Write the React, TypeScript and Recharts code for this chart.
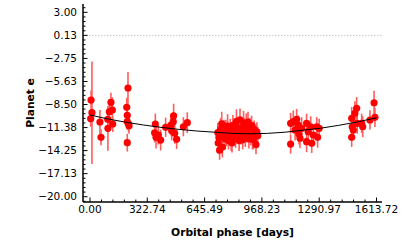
import React from 'react';
import { ComposedChart, Scatter, XAxis, YAxis, ErrorBar, ReferenceLine } from 'recharts';

const FONT = '"DejaVu Sans", sans-serif';

// Observations: orbital phase [days], planet e signal, error
const obsPhase = [
  6, 11, 4, 56, 62, 100, 101, 109, 118, 126, 128, 214, 207, 210, 210, 220, 210, 217,
  368, 364, 372, 385, 398, 426, 456, 460, 471, 469, 477, 488, 526, 548,
  720, 722, 726, 730, 735, 738, 742, 746, 750, 755, 760, 765, 770, 775, 780, 784,
  790, 795, 800, 805, 810, 815, 820, 825, 830, 835, 840, 845, 850, 855, 860, 865,
  870, 875, 880, 885, 890, 895, 900, 905, 910, 915, 920, 925, 930, 935, 940, 945,
  1130, 1130, 1145, 1164, 1173, 1177, 1183, 1192, 1220, 1220, 1229, 1243, 1249, 1258, 1277, 1282, 1291, 1155,
  1474, 1474, 1477, 1483, 1492, 1502, 1505, 1530, 1536, 1577, 1600, 1605,
];
const obsValue = [
  -7.94, -9.52, -10.27, -10.68, -12.59, -10.35, -11.47, -9.4, -8.23, -9.19, -10.93, -6.44, -8.85, -9.85, -10.64, -11.14, -13.26, -10.93,
  -10.93, -12.02, -12.59, -12.3, -12.93, -11.34, -11.06, -11.77, -9.9, -10.64, -12.09, -12.84, -11.27, -10.77,
  -12.0, -13.3, -12.6, -14.2, -11.6, -12.4, -10.9, -13.8, -12.1, -11.5, -12.8, -11.8, -12.5, -11.2, -13.0, -12.2,
  -11.6, -12.9, -13.3, -11.1, -12.4, -11.8, -12.7, -10.6, -12.0, -11.4, -13.0, -10.4, -12.3, -11.7, -12.9, -10.8,
  -11.5, -12.6, -11.0, -12.1, -10.7, -12.8, -11.4, -12.3, -11.1, -12.7, -12.9, -11.6, -12.2, -13.5, -11.9, -12.4,
  -10.84, -13.43, -10.64, -10.35, -11.06, -12.18, -12.71, -11.47, -10.84, -13.14, -11.89, -11.27, -13.34, -12.3, -11.27, -12.59, -11.47, -11.68,
  -10.22, -12.59, -11.27, -11.68, -9.6, -8.97, -10.84, -10.84, -11.27, -10.43, -8.28, -10.1,
];
const obsError = [
  1.2, 6.4, 1.0, 1.5, 1.0, 1.5, 2.8, 1.5, 1.2, 1.6, 1.0, 2.0, 1.2, 1.0, 1.0, 1.0, 1.1, 1.0,
  1.3, 1.2, 1.4, 1.2, 1.3, 1.2, 1.3, 1.2, 1.5, 1.2, 1.3, 1.2, 1.2, 1.3,
  1.2, 1.3, 1.1, 1.2, 1.4, 1.0, 1.5, 1.3, 1.2, 1.1, 1.3, 1.4, 1.2, 1.5, 1.1, 1.2,
  1.3, 1.4, 1.2, 1.3, 1.1, 1.4, 1.2, 1.5, 1.3, 1.2, 1.3, 1.4, 1.2, 1.1, 1.2, 1.5,
  1.3, 1.2, 1.4, 1.1, 1.3, 1.2, 1.2, 1.3, 1.2, 1.4, 1.2, 1.1, 1.3, 1.2, 1.2, 1.1,
  1.3, 1.2, 1.4, 1.3, 1.2, 1.3, 1.2, 1.4, 1.2, 1.3, 1.2, 1.3, 1.2, 1.3, 1.2, 1.3, 1.2, 1.3,
  1.4, 1.2, 1.3, 1.2, 1.5, 1.4, 1.3, 1.2, 1.3, 1.2, 1.5, 1.2,
];

// Model curve
const curvePhase = [0, 100, 200, 300, 400, 500, 600, 700, 800, 900, 1000, 1100, 1200, 1300, 1400, 1500, 1613.72];
const curveValue = [-9.8, -10.3, -10.7, -11.05, -11.35, -11.6, -11.8, -11.95, -12.1, -12.15, -12.1, -11.95, -11.7, -11.45, -11.1, -10.7, -10.15];

// Axes
const xMajorTicks = [0, 322.74, 645.49, 968.23, 1290.97, 1613.72];
const xTickLabels = ['0.00', '322.74', '645.49', '968.23', '1290.97', '1613.72'];
const xMinorTicks = [
  64.55, 129.1, 193.64, 258.19, 387.29, 451.84, 516.39, 580.94, 710.04, 774.58,
  839.13, 903.68, 1032.78, 1097.33, 1161.87, 1226.42, 1355.52, 1420.07, 1484.62, 1549.17,
];
const yMajorTicks = [3, 0.125, -2.75, -5.625, -8.5, -11.375, -14.25, -17.125, -20];
const yTickLabels = ['3.00', '0.13', '\u22122.75', '\u22125.63', '\u22128.50', '\u221211.38', '\u221214.25', '\u221217.13', '\u221220.00'];
const yMinorTicks = [
  3.575, 2.425, 1.85, 1.275, 0.7, -0.45, -1.025, -1.6, -2.175, -3.325, -3.9, -4.475, -5.05,
  -6.2, -6.775, -7.35, -7.925, -9.075, -9.65, -10.225, -10.8, -11.95, -12.525, -13.1, -13.675,
  -14.825, -15.4, -15.975, -16.55, -17.7, -18.275, -18.85, -19.425, -20.575,
];
const xDomain = [-39.4, 1644.7];
const yDomain = [-20.66, 4.04];

const obsData = obsPhase.map((x, i) => ({ x, y: obsValue[i], err: obsError[i] }));
const curveData = curvePhase.map((x, i) => ({ x, y: curveValue[i] }));
const xAllTicks = [...xMajorTicks, ...xMinorTicks].sort((a, b) => a - b);
const yAllTicks = [...yMajorTicks, ...yMinorTicks].sort((a, b) => a - b);

const MAJOR = 4.5;
const MINOR = 2.5;
const TICK_FS = 10.5;

function BottomTick(props: any) {
  const { x, y, payload } = props;
  const i = xMajorTicks.indexOf(payload.value);
  const axisY = y - 3;
  const len = i >= 0 ? MAJOR : MINOR;
  return (
    <g>
      <line x1={x} x2={x} y1={axisY} y2={axisY - len} stroke="#000" strokeWidth={1} />
      {i >= 0 && (
        <text x={x} y={y} dy="0.76em" textAnchor="middle" fontSize={TICK_FS} fontFamily={FONT} fill="#000">
          {xTickLabels[i]}
        </text>
      )}
    </g>
  );
}

function TopTick(props: any) {
  const { x, y, payload } = props;
  const len = xMajorTicks.indexOf(payload.value) >= 0 ? MAJOR : MINOR;
  return <line x1={x} x2={x} y1={y} y2={y + len} stroke="#000" strokeWidth={1} />;
}

function LeftTick(props: any) {
  const { x, y, payload } = props;
  const i = yMajorTicks.indexOf(payload.value);
  const axisX = x + 6;
  const len = i >= 0 ? MAJOR : MINOR;
  return (
    <g>
      <line x1={axisX} x2={axisX + len} y1={y} y2={y} stroke="#000" strokeWidth={1} />
      {i >= 0 && (
        <text x={x} y={y} dy="0.36em" textAnchor="end" fontSize={TICK_FS} fontFamily={FONT} fill="#000">
          {yTickLabels[i]}
        </text>
      )}
    </g>
  );
}

function RightTick(props: any) {
  const { x, y, payload } = props;
  const len = yMajorTicks.indexOf(payload.value) >= 0 ? MAJOR : MINOR;
  return <line x1={x} x2={x - len} y1={y} y2={y} stroke="#000" strokeWidth={1} />;
}

const Dot = (p: any) => <circle cx={p.cx} cy={p.cy} r={3.6} fill="#ff0000" />;
const NoDot = () => <g />;

export default function App() {
  return (
    <div style={{ position: 'absolute', left: 0, top: 0, width: 415, height: 243, background: '#fff' }}>
      <ComposedChart width={415} height={243} margin={{ top: 4, right: 33, bottom: 0, left: 0 }}>
        <XAxis
          xAxisId={0}
          dataKey="x"
          type="number"
          domain={xDomain}
          allowDataOverflow
          ticks={xAllTicks}
          interval={0}
          tickSize={0}
          tickMargin={3}
          height={41}
          tickLine={false}
          axisLine={{ stroke: '#000', strokeWidth: 1.5 }}
          tick={BottomTick}
          label={{
            value: 'Orbital phase [days]',
            position: 'insideBottom',
            offset: 7,
            style: { fontFamily: FONT, fontSize: 10.7, fontWeight: 'bold', fill: '#000' },
          }}
        />
        <XAxis
          xAxisId="top"
          orientation="top"
          dataKey="x"
          type="number"
          domain={xDomain}
          allowDataOverflow
          ticks={xAllTicks}
          interval={0}
          tickSize={0}
          tickMargin={0}
          height={0}
          tickLine={false}
          axisLine={{ stroke: '#000', strokeWidth: 1.5 }}
          tick={TopTick}
        />
        <YAxis
          yAxisId={0}
          dataKey="y"
          type="number"
          domain={yDomain}
          allowDataOverflow
          ticks={yAllTicks}
          interval={0}
          tickSize={0}
          tickMargin={6}
          width={83}
          tickLine={false}
          axisLine={{ stroke: '#000', strokeWidth: 1.5 }}
          tick={LeftTick}
          label={{
            value: 'Planet e',
            angle: -90,
            position: 'insideLeft',
            offset: 30,
            style: { fontFamily: FONT, fontSize: 10.7, fontWeight: 'bold', fill: '#000', textAnchor: 'middle' },
          }}
        />
        <YAxis
          yAxisId="right"
          orientation="right"
          dataKey="y"
          type="number"
          domain={yDomain}
          allowDataOverflow
          ticks={yAllTicks}
          interval={0}
          tickSize={0}
          tickMargin={0}
          width={0}
          tickLine={false}
          axisLine={{ stroke: '#000', strokeWidth: 2 }}
          tick={RightTick}
        />
        <ReferenceLine y={0.125} stroke="#c8c8c8" strokeDasharray="1.5 1.5" strokeWidth={1} ifOverflow="hidden" />
        <Scatter data={obsData} dataKey="y" shape={Dot} isAnimationActive={false}>
          <ErrorBar dataKey="err" direction="y" width={0} stroke="#ff5c5c" strokeWidth={1.6} isAnimationActive={false} />
        </Scatter>
        <Scatter
          data={curveData}
          dataKey="y"
          shape={NoDot}
          line={{ stroke: '#000', strokeWidth: 1 }}
          lineType="joint"
          isAnimationActive={false}
        />
      </ComposedChart>
    </div>
  );
}
